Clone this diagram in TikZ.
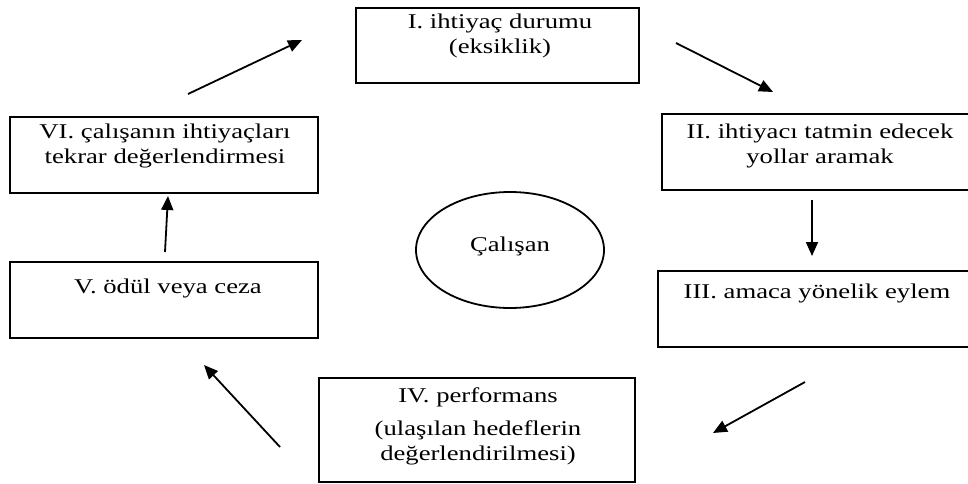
\documentclass[tikz,border=0pt]{standalone}
\usepackage{fontspec}
\setmainfont{Liberation Serif}[FakeStretch=1.27]
\usetikzlibrary{arrows.meta,shapes.geometric}
\begin{document}
\begin{tikzpicture}[x=1pt,y=-1pt,
  box/.style={draw, line width=1.8pt, rectangle, inner sep=0pt},
  txt/.style={align=center, inner sep=0pt, font=\fontsize{21}{25}\selectfont},
  arr/.style={line width=1.8pt, -{Triangle[length=14pt,width=12pt]}}]
\useasboundingbox (0,0) rectangle (968,484);
\fill[white] (0,0) rectangle (968,484);
% boxes
\node[box, minimum width=283pt, minimum height=75pt] (b1) at (497.5,45.5) {};
\node[box, minimum width=316pt, minimum height=76pt] (b2) at (820,152) {};
\node[box, minimum width=320pt, minimum height=76pt] (b3) at (818,309) {};
\node[box, minimum width=316pt, minimum height=104pt] (b4) at (477,430) {};
\node[box, minimum width=308pt, minimum height=76pt] (b5) at (164,300) {};
\node[box, minimum width=308pt, minimum height=76pt] (b6) at (164,155) {};
% texts
\node[txt] (t1) at (500,35.5) {I. ihtiyaç durumu\\(eksiklik)};
\node[txt] (t2) at (820,145.5) {II. ihtiyacı tatmin edecek\\yollar aramak};
\node[txt] (t3) at (817,293) {III. amaca yönelik eylem};
\node[txt] (t4) at (478,426.5) {IV. performans\\[8pt](ulaşılan hedeflerin\\değerlendirilmesi)};
\node[txt] (t5) at (168,288) {V. ödül veya ceza};
\node[txt] (t6) at (165,145.5) {VI. çalışanın ihtiyaçları\\tekrar değerlendirmesi};
% centre
\node[draw, line width=1.8pt, ellipse, minimum width=188pt, minimum height=116pt, inner sep=0pt] (c) at (510,250) {};
\node[txt] (ct) at (510,246) {Çalışan};
% arrow end points
\coordinate (a1s) at (188,94);  \coordinate (a1e) at (302,40);
\coordinate (a2s) at (676,43);  \coordinate (a2e) at (773,92);
\coordinate (a3s) at (812,200); \coordinate (a3e) at (812,256);
\coordinate (a4s) at (805,382); \coordinate (a4e) at (713,433);
\coordinate (a5s) at (280,447); \coordinate (a5e) at (204,365);
\coordinate (a6s) at (165,252); \coordinate (a6e) at (168,196);
\draw[arr] (a1s) -- (a1e);
\draw[arr] (a2s) -- (a2e);
\draw[arr] (a3s) -- (a3e);
\draw[arr] (a4s) -- (a4e);
\draw[arr] (a5s) -- (a5e);
\draw[arr] (a6s) -- (a6e);
\end{tikzpicture}
\end{document}
